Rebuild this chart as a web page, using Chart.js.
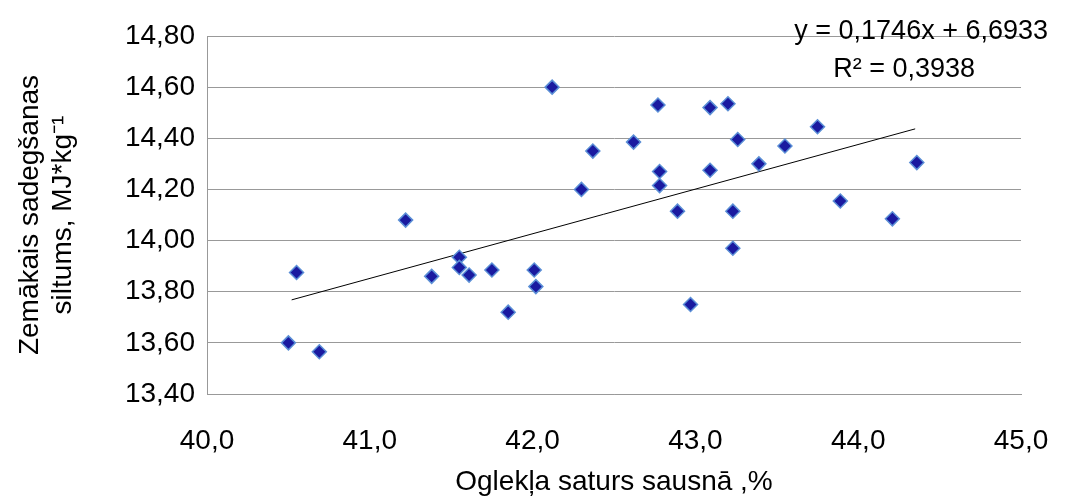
<!DOCTYPE html>
<html>
<head>
<meta charset="utf-8">
<script src="https://cdn.jsdelivr.net/npm/chart.js@4/dist/chart.umd.min.js"></script>
<style>
  html, body { margin: 0; padding: 0; background: #fff; }
  #wrap { width: 1066px; height: 497px; position: relative; }
</style>
</head>
<body>
<div id="wrap"><canvas id="c" width="1066" height="497"></canvas></div>
<script>
const carbon = [40.50, 40.69, 40.55, 41.22, 41.38, 41.55, 41.55, 41.61, 41.75, 41.85, 42.01, 42.02, 42.12, 42.30, 42.37, 42.62, 42.77, 42.78, 42.78, 42.89, 42.97, 43.09, 43.09, 43.20, 43.26, 43.23, 43.23, 43.39, 43.55, 43.75, 43.89, 44.21, 44.36];
const heat = [13.60, 13.565, 13.875, 14.08, 13.86, 13.935, 13.895, 13.865, 13.885, 13.72, 13.885, 13.82, 14.60, 14.20, 14.35, 14.385, 14.53, 14.27, 14.215, 14.115, 13.75, 14.52, 14.275, 14.535, 14.395, 14.115, 13.97, 14.30, 14.37, 14.445, 14.155, 14.085, 14.305];
const trendX = [40.52, 44.35];
const slope = 0.1746, intercept = 6.6933;
const yTicks = [13.4, 13.6, 13.8, 14.0, 14.2, 14.4, 14.6, 14.8];

const font = 'Liberation Sans, Arial, sans-serif';
const comma = (v, d) => v.toFixed(d).replace('.', ',');

const labelsPlugin = {
  id: 'labels',
  afterDraw(chart) {
    const ctx = chart.ctx;
    ctx.save();
    ctx.fillStyle = '#000';
    ctx.font = '27px ' + font;
    ctx.textAlign = 'right';
    ctx.textBaseline = 'middle';
    ctx.fillText('y = 0,1746x + 6,6933', 1048, 32);
    ctx.fillText('R² = 0,3938', 975, 70);
    ctx.textAlign = 'center';
    ctx.font = '28px ' + font;
    ctx.fillText('Oglekļa saturs sausnā ,%', 614, 482);
    ctx.translate(30, 215);
    ctx.rotate(-Math.PI / 2);
    ctx.fillText('Zemākais sadegšanas', 0, 0);
    ctx.fillText('siltums, MJ*kg⁻¹', 0, 33);
    ctx.restore();
  }
};

new Chart(document.getElementById('c'), {
  type: 'scatter',
  data: {
    datasets: [
      {
        data: carbon.map((x, i) => ({ x, y: heat[i] })),
        pointStyle: 'rectRot',
        pointRadius: 7,
        pointBackgroundColor: '#1a1aa0',
        pointBorderColor: '#5b8fd6',
        pointBorderWidth: 1.5
      },
      {
        type: 'line',
        data: trendX.map(x => ({ x, y: slope * x + intercept })),
        borderColor: '#000',
        borderWidth: 1,
        pointRadius: 0
      }
    ]
  },
  options: {
    responsive: false,
    animation: false,
    layout: { padding: { left: 0, right: 0, top: 36, bottom: 0 } },
    plugins: { legend: { display: false }, tooltip: { enabled: false } },
    scales: {
      x: {
        min: 40, max: 45,
        afterFit: s => { s.height = 103; s.paddingRight = 45; },
        ticks: { stepSize: 1, color: '#000', padding: 30, font: { size: 28, family: font }, callback: v => comma(v, 1) },
        grid: { display: false, drawTicks: false },
        border: { color: '#999' }
      },
      y: {
        min: 13.4, max: 14.8,
        afterFit: s => { s.width = 207; },
        afterBuildTicks: s => { s.ticks = yTicks.map(v => ({ value: v })); },
        ticks: { color: '#000', font: { size: 28, family: font }, padding: 12, callback: v => comma(v, 2) },
        grid: { color: '#999', drawTicks: false },
        border: { color: '#999' }
      }
    }
  },
  plugins: [labelsPlugin]
});
</script>
</body>
</html>
